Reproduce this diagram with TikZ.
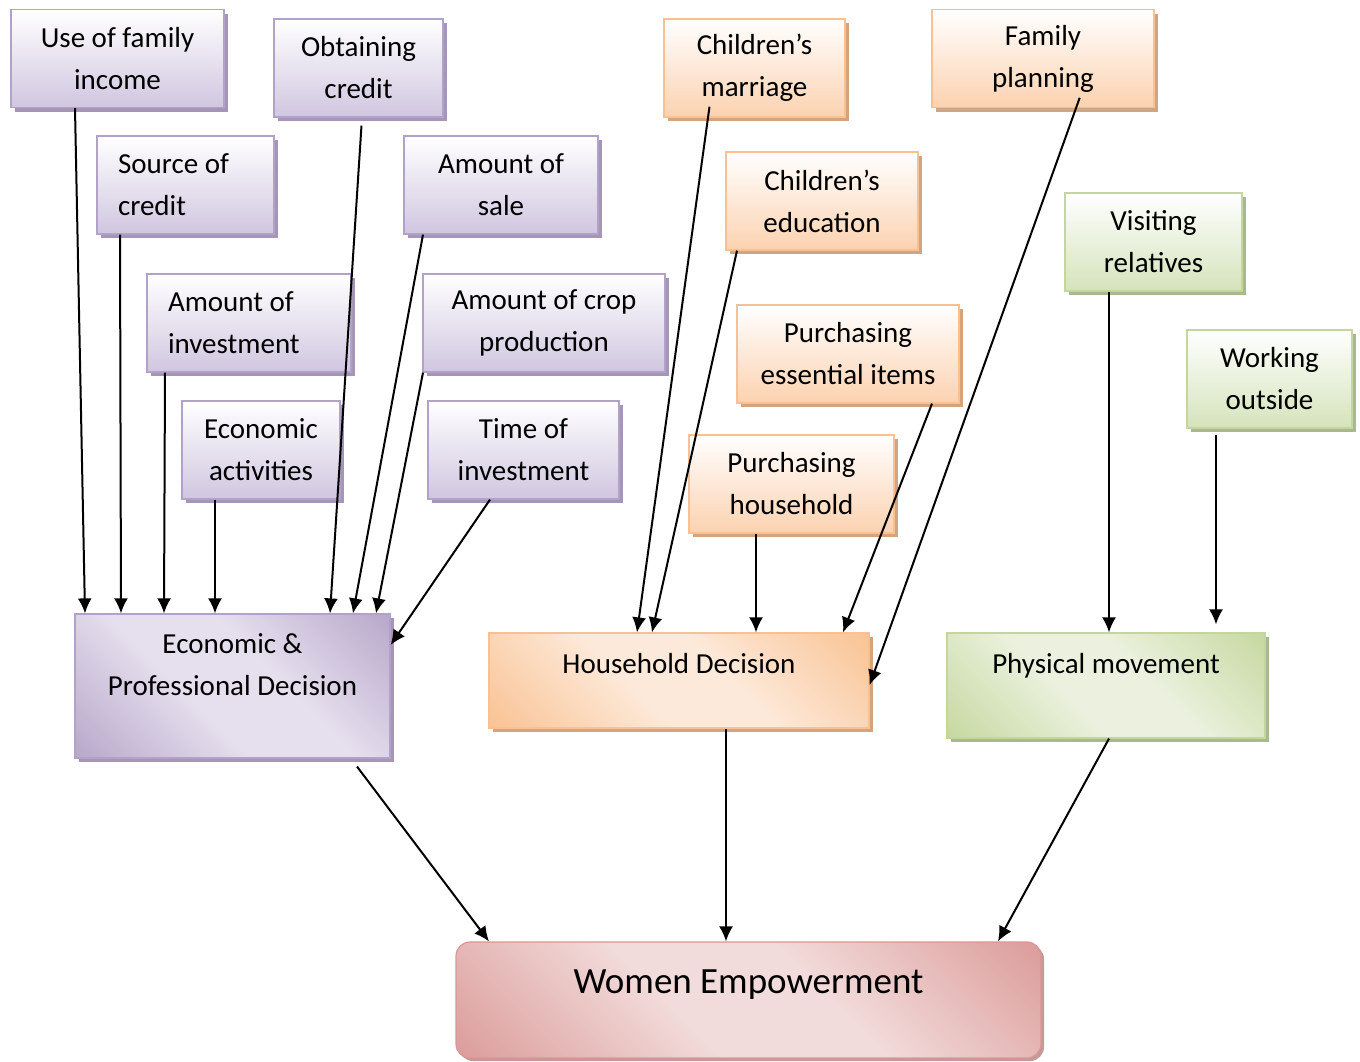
\documentclass[tikz,border=0pt]{standalone}
\usepackage{fontspec}
\setmainfont{Carlito}
\usetikzlibrary{positioning,shadows,arrows.meta}

\definecolor{purpline}{HTML}{B3A2C7}
\definecolor{purpfill}{HTML}{D0C6E0}
\definecolor{purpdark}{HTML}{B3A2C7}
\definecolor{purplight}{HTML}{E6E0EE}
\definecolor{purpshade}{HTML}{A596B8}
\definecolor{orgline}{HTML}{FAC090}
\definecolor{orgfill}{HTML}{FCD2B0}
\definecolor{orgdark}{HTML}{F9BF8D}
\definecolor{orglight}{HTML}{FDE9D9}
\definecolor{orgshade}{HTML}{D4A47E}
\definecolor{grnline}{HTML}{C3D69B}
\definecolor{grnfill}{HTML}{D5E3BB}
\definecolor{grndark}{HTML}{C3D69B}
\definecolor{grnlight}{HTML}{EBF1DE}
\definecolor{grnshade}{HTML}{A9B88F}
\definecolor{pinkline}{HTML}{D99694}
\definecolor{pinkdark}{HTML}{D99694}
\definecolor{pinklight}{HTML}{F2DCDB}
\definecolor{pinkshade}{HTML}{C49A98}

\pgfdeclareverticalshading{purpdiag}{100bp}{color(0bp)=(purpdark); color(12bp)=(purpdark);
	color(42bp)=(purplight); color(58bp)=(purplight); color(88bp)=(purpdark); color(100bp)=(purpdark)}
\pgfdeclareverticalshading{orgdiag}{100bp}{color(0bp)=(orgdark); color(12bp)=(orgdark);
	color(42bp)=(orglight); color(58bp)=(orglight); color(88bp)=(orgdark); color(100bp)=(orgdark)}
\pgfdeclareverticalshading{grndiag}{100bp}{color(0bp)=(grndark); color(12bp)=(grndark);
	color(42bp)=(grnlight); color(58bp)=(grnlight); color(88bp)=(grndark); color(100bp)=(grndark)}
\pgfdeclareverticalshading{pinkdiag}{100bp}{color(0bp)=(pinkdark); color(12bp)=(pinkdark);
	color(42bp)=(pinklight); color(58bp)=(pinklight); color(88bp)=(pinkdark); color(100bp)=(pinkdark)}

\begin{document}
\begin{tikzpicture}[x=1pt, y=-1pt, >={Latex[length=15pt, width=14pt]},
		font=\fontsize{29}{42}\selectfont,
		box/.style={draw, line width=1.2pt, align=center, minimum height=98pt, inner sep=6pt},
		pbox/.style={box, draw=purpline, top color=white, bottom color=purpfill,
			drop shadow={opacity=1, fill=purpshade, shadow xshift=4pt, shadow yshift=-4pt}},
		obox/.style={box, draw=orgline, top color=white, bottom color=orgfill,
			drop shadow={opacity=1, fill=orgshade, shadow xshift=4pt, shadow yshift=-4pt}},
		gbox/.style={box, draw=grnline, top color=white, bottom color=grnfill,
			drop shadow={opacity=1, fill=grnshade, shadow xshift=4pt, shadow yshift=-4pt}},
		pbig/.style={draw=purpline, line width=1.2pt, shading=purpdiag, shading angle=-45,
			drop shadow={opacity=1, fill=purpshade, shadow xshift=4pt, shadow yshift=-4pt}},
		obig/.style={draw=orgline, line width=1.2pt, shading=orgdiag, shading angle=-45,
			drop shadow={opacity=1, fill=orgshade, shadow xshift=4pt, shadow yshift=-4pt}},
		gbig/.style={draw=grnline, line width=1.2pt, shading=grndiag, shading angle=-45,
			drop shadow={opacity=1, fill=grnshade, shadow xshift=4pt, shadow yshift=-4pt}},
		wbig/.style={draw=pinkline, line width=1.2pt, rounded corners=14pt, shading=pinkdiag,
			shading angle=-45,
			drop shadow={opacity=1, fill=pinkshade, shadow xshift=3pt, shadow yshift=-3pt}},
		lbl/.style={anchor=north, inner sep=0pt, align=center},
		arr/.style={->, line width=2pt}]

		\useasboundingbox (0,0) rectangle (1360,1061);

		% economic inputs
		\foreach \nm/\cx/\cy/\w/\txt in {usefam/117.5/58.5/213/{Use of family\\income},
			obtcred/358.5/68/169/{Obtaining\\credit}, amtsale/501/185/194/{Amount of\\sale},
			amtcrop/544/323/242/{Amount of crop\\production}, econact/261/450/158/{Economic\\activities},
			timeinv/523.5/450/191/{Time of\\investment}}
		\node [pbox, minimum width=\w pt] (\nm) at (\cx,\cy) {\txt};

		\node [pbox, text width=135pt, inner xsep=21pt, align=flush left] (srccred) at (185.5,185) {Source of\\credit};
		\node [pbox, text width=162pt, inner xsep=21pt, align=flush left] (amtinv) at (249,323) {Amount of\\investment};

		% household inputs
		\foreach \nm/\cx/\cy/\w/\txt in {chmar/754.5/68/181/{Children’s\\marriage},
			famplan/1043/58.5/222/{Family\\planning}, chedu/822/201/192/{Children’s\\education},
			purchess/848/354/222/{Purchasing\\essential items}, purchhh/791.5/484/205/{Purchasing\\household}}
		\node [obox, minimum width=\w pt] (\nm) at (\cx,\cy) {\txt};

		% movement inputs
		\foreach \nm/\cx/\cy/\w/\txt in {visit/1153.5/242/177/{Visiting\\relatives},
			work/1269.5/379/165/{Working\\outside}}
		\node [gbox, minimum width=\w pt] (\nm) at (\cx,\cy) {\txt};

		% decisions
		\node [pbig, minimum width=315pt, minimum height=144pt,
			label={[lbl, yshift=-20pt]north:Economic \&\\Professional Decision}] (econ) at (232.5,686) {};
		\node [obig, minimum width=380pt, minimum height=95pt,
			label={[lbl, yshift=-21pt]north:Household Decision}] (house) at (679,680.5) {};
		\node [gbig, minimum width=318pt, minimum height=105pt,
			label={[lbl, yshift=-21pt]north:Physical movement}] (phys) at (1106,685.5) {};
		\node [wbig, minimum width=585pt, minimum height=116pt,
			label={[lbl, yshift=-28pt, font=\fontsize{37}{44}\selectfont]north:Women Empowerment}] (women) at (748.5,1000) {};

		\draw [arr] (usefam.south -| 75,0) -- (econ.north -| 85,0);
		\draw [arr] (srccred.south -| 120,0) -- (econ.north -| 121,0);
		\draw [arr] (amtinv.south -| 165,0) -- (econ.north -| 164,0);
		\draw [arr] (econact.south -| 215,0) -- (econ.north -| 215,0);
		\draw [arr, shorten <=8pt] (obtcred.south -| 362,0) -- (econ.north -| 330,0);
		\draw [arr] (amtsale.south -| 423,0) -- (econ.north -| 353,0);
		\draw [arr] (amtcrop.south -| 423,0) -- (econ.north -| 376,0);
		\draw [arr] (timeinv.south -| 490,0) -- (econ.east |- 0,645);

		\draw [arr, shorten <=-11pt] (chmar.south -| 708,0) -- (house.north -| 637,0);
		\draw [arr] (chedu.south -| 737,0) -- (house.north -| 652,0);
		\draw [arr] (purchhh.south -| 756,0) -- (house.north -| 756,0);
		\draw [arr] (purchess.south -| 932,0) -- (house.north -| 843,0);
		\draw [arr, shorten <=-11pt] (famplan.south -| 1076,0) -- (house.east |- 0,685);

		\draw [arr] (visit.south -| 1109,0) -- (phys.north -| 1109,0);
		\draw [arr, shorten <=6pt, shorten >=8pt] (work.south -| 1216,0) -- (phys.north -| 1216,0);

		\draw [arr, shorten <=10pt] (econ.south -| 351,0) -- (women.north -| 489,0);
		\draw [arr] (house.south -| 726,0) -- (women.north -| 726,0);
		\draw [arr] (phys.south -| 1109,0) -- (women.north -| 998,0);

\end{tikzpicture}
\end{document}
